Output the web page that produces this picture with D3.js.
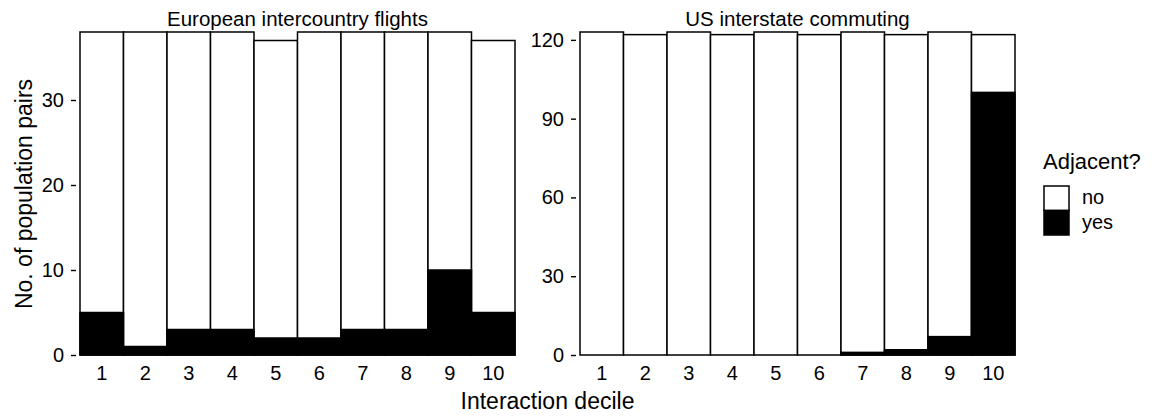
<!DOCTYPE html>
<html>
<head>
<meta charset="utf-8">
<script src="https://cdn.jsdelivr.net/npm/d3@7"></script>
<style>
  body { margin: 0; background: #fff; }
  svg { display: block; font-family: "Liberation Sans", Arial, Helvetica, sans-serif; }
</style>
</head>
<body>
<div id="chart"></div>
<script>
// data
let deciles = ["1", "2", "3", "4", "5", "6", "7", "8", "9", "10"];
let euTotal = [38, 38, 38, 38, 37, 38, 38, 38, 38, 37];
let euYes   = [5, 1, 3, 3, 2, 2, 3, 3, 10, 5];
let usTotal = [123, 122, 123, 122, 123, 122, 123, 122, 123, 122];
let usYes   = [0, 0, 0, 0, 0, 0, 1, 2, 7, 100];
let euTicks = [0, 10, 20, 30];
let usTicks = [0, 30, 60, 90, 120];
let legendLabels = ["no", "yes"];

let width = 1155;
let height = 416;
let plotTop = 32, plotBottom = 355;
let tickFont = 20;

let svg = d3.select("#chart")
    .append("svg")
    .attr("width", width)
    .attr("height", height)
    .attr("viewBox", [0, 0, width, height]);

let panels = [
    {title: "European intercountry flights", total: euTotal, yes: euYes, ticks: euTicks, left: 80},
    {title: "US interstate commuting", total: usTotal, yes: usYes, ticks: usTicks, left: 580}
];

panels.forEach(p => {
    let data = deciles.map((d, i) => ({decile: d, total: p.total[i], yes: p.yes[i]}));

    let xScale = d3.scaleBand()
        .domain(deciles)
        .range([p.left, p.left + 435])
        .padding(0);
    let yScale = d3.scaleLinear()
        .domain([0, d3.max(data, d => d.total)])
        .range([plotBottom, plotTop]);

    let g = svg.append("g");

    // whole bar (no)
    g.append("g")
        .selectAll("rect")
        .data(data)
        .join("rect")
        .attr("x", d => xScale(d.decile))
        .attr("width", xScale.bandwidth())
        .attr("y", d => yScale(d.total))
        .attr("height", d => yScale(0) - yScale(d.total))
        .attr("fill", "white")
        .attr("stroke", "black")
        .attr("stroke-width", 1.5);

    // yes part
    g.append("g")
        .selectAll("rect")
        .data(data.filter(d => d.yes > 0))
        .join("rect")
        .attr("x", d => xScale(d.decile))
        .attr("width", xScale.bandwidth())
        .attr("y", d => yScale(d.yes))
        .attr("height", d => yScale(0) - yScale(d.yes))
        .attr("fill", "black")
        .attr("stroke", "black")
        .attr("stroke-width", 1.5);

    // y axis
    g.append("g")
        .attr("transform", `translate(${p.left - 4},0)`)
        .call(d3.axisLeft(yScale).tickValues(p.ticks).tickSize(5).tickPadding(7))
        .call(g => g.select(".domain").remove())
        .call(g => g.selectAll(".tick line").attr("stroke", "black").attr("stroke-width", 1.4))
        .call(g => g.selectAll(".tick text")
            .attr("fill", "black")
            .attr("font-size", tickFont)
            .attr("font-family", "Liberation Sans, Arial, sans-serif"));

    // x axis labels only
    g.append("g")
        .attr("transform", `translate(0,${plotBottom})`)
        .call(d3.axisBottom(xScale).tickSize(0).tickPadding(11))
        .call(g => g.select(".domain").remove())
        .call(g => g.selectAll(".tick text")
            .attr("fill", "black")
            .attr("font-size", tickFont)
            .attr("font-family", "Liberation Sans, Arial, sans-serif"));

    g.append("text")
        .attr("x", p.left + 217.5)
        .attr("y", 26)
        .attr("text-anchor", "middle")
        .attr("font-size", 20.5)
        .text(p.title);
});

svg.append("text")
    .attr("x", 547.5)
    .attr("y", 409)
    .attr("text-anchor", "middle")
    .attr("font-size", 23)
    .text("Interaction decile");

svg.append("text")
    .attr("transform", "translate(32,194) rotate(-90)")
    .attr("text-anchor", "middle")
    .attr("font-size", 23)
    .text("No. of population pairs");

// legend
let legend = svg.append("g").attr("transform", "translate(1043,0)");
legend.append("text")
    .attr("x", 0)
    .attr("y", 169)
    .attr("font-size", 22)
    .text("Adjacent?");

let legendY = d3.scaleBand().domain(legendLabels).range([186, 235]);
legend.selectAll("rect")
    .data(legendLabels)
    .join("rect")
    .attr("x", 1)
    .attr("y", d => legendY(d))
    .attr("width", 25)
    .attr("height", legendY.bandwidth())
    .attr("fill", d => d === "no" ? "white" : "black")
    .attr("stroke", "black")
    .attr("stroke-width", 1.5);
legend.selectAll(".lab")
    .data(legendLabels)
    .join("text")
    .attr("class", "lab")
    .attr("x", 39)
    .attr("y", d => legendY(d) + legendY.bandwidth() / 2 + 6)
    .attr("font-size", tickFont)
    .text(d => d);
</script>
</body>
</html>
